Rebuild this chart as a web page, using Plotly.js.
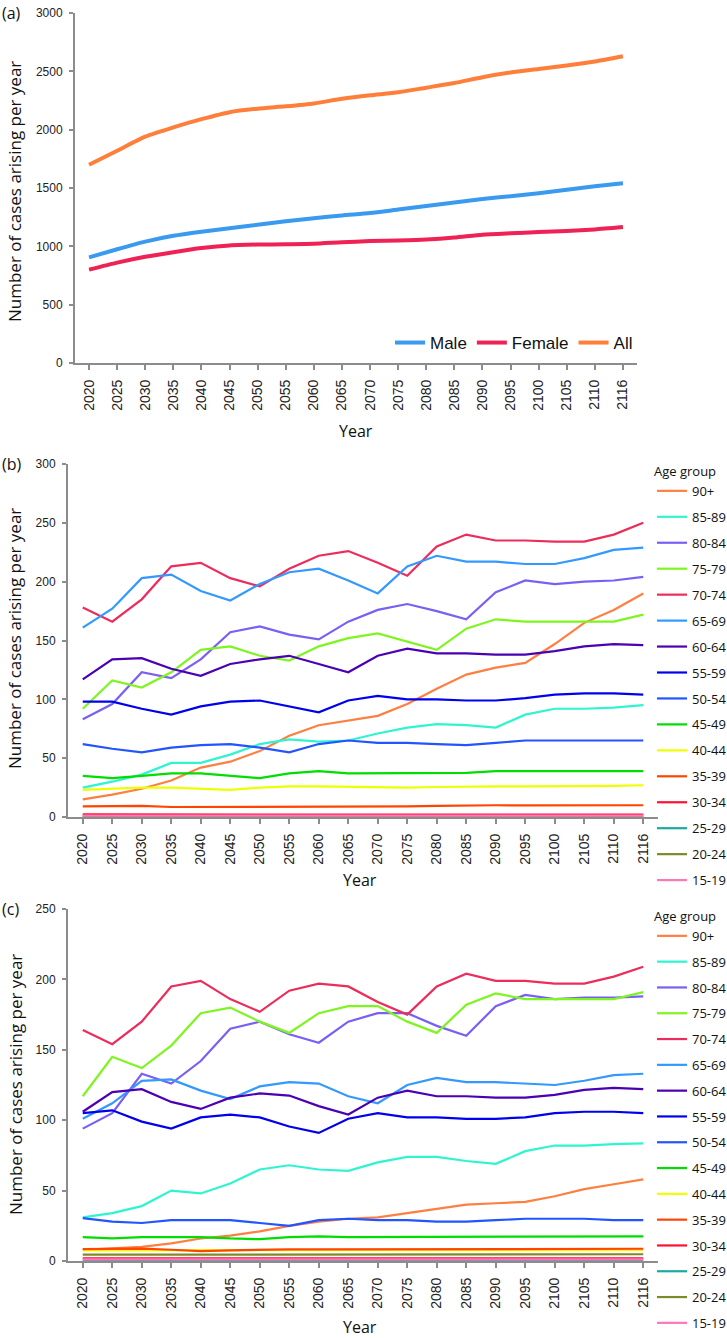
<!DOCTYPE html>
<html>
<head>
<meta charset="utf-8">
<script src="https://cdn.plot.ly/plotly-3.0.1.min.js"></script>
<style>html,body{margin:0;padding:0;background:#fff;}#chart{width:727px;height:1338px;}</style>
</head>
<body>
<div id="chart"></div>
<script>
// ---------- DATA ----------
var years = ['2020','2025','2030','2035','2040','2045','2050','2055','2060','2065','2070','2075','2080','2085','2090','2095','2100','2105','2110','2116'];

// Panel (a)
var sexNames = ['Male','Female','All'];
var maleCases   = [905, 975, 1040, 1090, 1125, 1155, 1185, 1215, 1240, 1265, 1285, 1315, 1345, 1375, 1405, 1430, 1455, 1485, 1515, 1540];
var femaleCases = [800, 860, 910, 950, 985, 1008, 1015, 1018, 1022, 1035, 1045, 1050, 1058, 1075, 1100, 1112, 1122, 1132, 1145, 1165];
var allCases    = [1700, 1820, 1940, 2020, 2090, 2150, 2180, 2200, 2225, 2265, 2295, 2320, 2360, 2400, 2450, 2490, 2520, 2550, 2585, 2630];

// Age groups (legend order)
var ageGroups = ['90+','85-89','80-84','75-79','70-74','65-69','60-64','55-59','50-54','45-49','40-44','35-39','30-34','25-29','20-24','15-19'];

// Panel (b)
var b_90 = [15,19,24,31,42,47,56,69,78,82,86,96,109,121,127,131,147,165,176,190];
var b_85 = [25,30,36,46,46,53,62,66,64,65,71,76,79,78,76,87,92,92,93,95];
var b_80 = [83,96,123,118,134,157,162,155,151,166,176,181,175,168,191,201,198,200,201,204];
var b_75 = [92,116,110,123,142,145,137,133,145,152,156,149,142,160,168,166,166,166,166,172];
var b_70 = [178,166,185,213,216,203,196,211,222,226,216,205,230,240,235,235,234,234,240,250];
var b_65 = [161,177,203,206,192,184,198,208,211,201,190,213,222,217,217,215,215,220,227,229];
var b_60 = [117,134,135,126,120,130,134,137,130,123,137,143,139,139,138,138,141,145,147,146];
var b_55 = [98,98,92,87,94,98,99,94,89,99,103,100,100,99,99,101,104,105,105,104];
var b_50 = [62,58,55,59,61,62,59,55,62,65,63,63,62,61,63,65,65,65,65,65];
var b_45 = [35,33,35,37,37,35,33,37,39,37,37,37,37,37.5,39,39,39,39,39,39];
var b_40 = [23,24,25,25,24,23,25,26,26,25.5,25.5,25,25.5,26,26,26,26,26,26.5,27];
var b_35 = [9,9.5,9.5,8.5,8.5,9,9,9,9,8.8,9,9,9.5,10,10,9.8,9.8,10,10,10];
var b_30 = [2.3,2.2,2.1,2.1,2.0,2.0,2.1,2.1,2.0,2.0,2.1,2.0,2.0,2.1,2.1,2.0,2.0,2.1,2.1,2.1];
var b_25 = [0.4,0.4,0.3,0.3,0.3,0.4,0.3,0.3,0.3,0.4,0.3,0.3,0.3,0.3,0.4,0.3,0.3,0.3,0.3,0.3];
var b_20 = [0.8,0.8,0.7,0.8,0.8,0.7,0.8,0.8,0.8,0.7,0.8,0.8,0.8,0.7,0.8,0.8,0.8,0.8,0.7,0.8];
var b_15 = [1.2,1.2,1.1,1.2,1.2,1.1,1.2,1.2,1.2,1.1,1.2,1.2,1.2,1.1,1.2,1.2,1.2,1.2,1.1,1.2];

// Panel (c)
var c_90 = [8,9,10,12.5,16,18,21,25,28,30,31,34,37,40,41,42,46,51,54.5,58];
var c_85 = [31,34,39,50,48,55,65,68,65,64,70,74,74,71,69,78,82,82,83,83.5];
var c_80 = [94,105,133,126,142,165,170,161,155,170,176,176,167,160,181,189,186,187,187,188];
var c_75 = [117,145,137,153,176,180,170,162,176,181,181,170,162,182,190,186,186,186,186,191];
var c_70 = [164,154,170,195,199,186,177,192,197,195,184,175,195,204,199,199,197,197,202,209];
var c_65 = [101,112,128,129,121,115,124,127,126,117,112,125,130,127,127,126,125,128,132,133];
var c_60 = [106,120,122,113,108,116,119,117.5,110,104,116,121,117,117,116,116,118,121.5,123,122];
var c_55 = [105,107,99,94,102,104,102,95.5,91,101,105,102,102,101,101,102,105,106,106,105];
var c_50 = [30.5,28,27,29,29,29,27,25,29,30,29,29,28,28,29,30,30,30,29,29];
var c_45 = [17,16,17,17,17,16,15.5,17,17.5,17,17,17,17,17,17.5,17.5,17.5,17.5,17.5,17.5];
var c_40 = [7.6,7.6,7.7,7.6,7.5,7.6,7.7,7.7,7.7,7.6,7.6,7.7,7.7,7.7,7.7,7.7,7.8,7.8,7.8,7.8];
var c_35 = [8.5,8.6,8.8,8.0,7.0,7.6,8.0,8.2,8.2,8.2,8.2,8.3,8.3,8.3,8.3,8.3,8.3,8.4,8.5,8.7];
var c_30 = [1.8,1.8,1.7,1.8,1.8,1.7,1.8,1.8,1.8,1.7,1.8,1.8,1.8,1.7,1.8,1.8,1.8,1.8,1.7,1.8];
var c_25 = [0.3,0.3,0.3,0.3,0.3,0.3,0.3,0.3,0.3,0.3,0.3,0.3,0.3,0.3,0.3,0.3,0.3,0.3,0.3,0.3];
var c_20 = [4.5,4.5,4.6,4.6,4.6,4.6,4.6,4.6,4.7,4.7,4.7,4.7,4.7,4.7,4.7,4.7,4.8,4.8,4.8,4.8];
var c_15 = [1.2,1.2,1.1,1.2,1.2,1.1,1.2,1.2,1.2,1.1,1.2,1.2,1.2,1.1,1.2,1.2,1.2,1.2,1.1,1.2];

// ---------- STYLE ----------
var sexColors = ['#3A9AF0','#EE2255','#FF7F3A'];
var ageColors = ['#FF7F41','#2EF5D0','#7B5FF5','#7FF51F','#EE2C5C','#3399FF','#4B00B4','#0000EE','#2255FF','#00DD00','#EEFF00','#FF4500','#FF1030','#1AABA0','#7A8B2A','#FF77BB'];

var W = 727, H = 1338;
function px(x){ return x / W; }
function py(y){ return 1 - y / H; }

var bSeries = [b_90,b_85,b_80,b_75,b_70,b_65,b_60,b_55,b_50,b_45,b_40,b_35,b_30,b_25,b_20,b_15];
var cSeries = [c_90,c_85,c_80,c_75,c_70,c_65,c_60,c_55,c_50,c_45,c_40,c_35,c_30,c_25,c_20,c_15];
var aSeries = [maleCases, femaleCases, allCases];

var traces = [];
aSeries.forEach(function(s, i){
  traces.push({x: years, y: s, type:'scatter', mode:'lines', name: sexNames[i],
    line:{color: sexColors[i], width:4, shape:'spline', smoothing:0.6},
    xaxis:'x', yaxis:'y', legend:'legend'});
});
bSeries.forEach(function(s, i){
  traces.push({x: years, y: s, type:'scatter', mode:'lines', name: ageGroups[i],
    line:{color: ageColors[i], width:2.2}, legendgroup:'b'+i,
    xaxis:'x2', yaxis:'y2', legend:'legend2'});
});
cSeries.forEach(function(s, i){
  traces.push({x: years, y: s, type:'scatter', mode:'lines', name: ageGroups[i],
    line:{color: ageColors[i], width:2.2}, legendgroup:'c'+i,
    xaxis:'x3', yaxis:'y3', legend:'legend3'});
});

var tickFont = {family:'Liberation Sans, Arial, sans-serif', size:12, color:'#222'};
var xTickFont = {family:'Liberation Sans, Arial, sans-serif', size:14, color:'#222'};
var axisColor = '#8C8C8C';

function xax(dom, anchor){
  return {domain: dom, anchor: anchor, type:'category', range:[-0.5, 19.5],
    showline:true, linecolor:axisColor, linewidth:2, ticks:'outside', ticklen:5, tickwidth:2, tickcolor:axisColor,
    tickangle:-90, tickfont:xTickFont, showgrid:false, zeroline:false, fixedrange:true, ticklabelstandoff:4};
}
function yax(dom, anchor, rng, dt){
  return {domain: dom, anchor: anchor, range: rng, dtick: dt, tick0:0,
    showline:true, linecolor:axisColor, linewidth:2, ticks:'outside', ticklen:4, tickwidth:2, tickcolor:axisColor,
    tickfont:tickFont, showgrid:false, zeroline:false, fixedrange:true, ticklabelstandoff:4};
}

var legendFont = {family:'Open Sans, Liberation Sans, sans-serif', size:13, color:'#111'};
var titleFont = {family:'Open Sans, sans-serif', size:17, color:'#111'};
var yearFont = {family:'Open Sans, sans-serif', size:16, color:'#111'};

var layout = {
  width: W, height: H,
  margin:{l:0, r:0, t:0, b:0, autoexpand:false},
  paper_bgcolor:'#fff', plot_bgcolor:'#fff',
  showlegend:true,
  xaxis:  xax([px(75), px(637)], 'y'),
  yaxis:  yax([py(363), py(13)], 'x', [0, 3000], 500),
  xaxis2: xax([px(68), px(658)], 'y2'),
  yaxis2: yax([py(817), py(464)], 'x2', [0, 300], 50),
  xaxis3: xax([px(68), px(658)], 'y3'),
  yaxis3: yax([py(1261), py(909)], 'x3', [0, 250], 50),
  legend: {orientation:'h', x: px(390), y: py(343), xanchor:'left', yanchor:'middle',
    font:{family:'Liberation Sans Narrow, Liberation Sans, sans-serif', size:17, color:'#111'},
    bgcolor:'rgba(0,0,0,0)', itemwidth:30, tracegroupgap:0},
  legend2: {orientation:'v', x: px(652), y: py(459), xanchor:'left', yanchor:'top',
    title:{text:'Age group', font:{family:'Open Sans, sans-serif', size:13, color:'#111'}},
    font: legendFont, bgcolor:'rgba(0,0,0,0)', traceorder:'grouped', tracegroupgap:6.05, itemwidth:30},
  legend3: {orientation:'v', x: px(652), y: py(904), xanchor:'left', yanchor:'top',
    title:{text:'Age group', font:{family:'Open Sans, sans-serif', size:13, color:'#111'}},
    font: legendFont, bgcolor:'rgba(0,0,0,0)', traceorder:'grouped', tracegroupgap:5.9, itemwidth:30},
  annotations: [
    {text:'(a)', x: px(0), y: py(13), xref:'paper', yref:'paper', xanchor:'left', yanchor:'middle', showarrow:false, font:{family:'Open Sans, sans-serif', size:16, color:'#111'}},
    {text:'(b)', x: px(0), y: py(464), xref:'paper', yref:'paper', xanchor:'left', yanchor:'middle', showarrow:false, font:{family:'Open Sans, sans-serif', size:16, color:'#111'}},
    {text:'(c)', x: px(0), y: py(909), xref:'paper', yref:'paper', xanchor:'left', yanchor:'middle', showarrow:false, font:{family:'Open Sans, sans-serif', size:16, color:'#111'}},
    {text:'Number of cases arising per year', textangle:-90, x: px(15), y: py(192), xref:'paper', yref:'paper', xanchor:'center', yanchor:'middle', showarrow:false, font:titleFont},
    {text:'Number of cases arising per year', textangle:-90, x: px(15), y: py(639), xref:'paper', yref:'paper', xanchor:'center', yanchor:'middle', showarrow:false, font:titleFont},
    {text:'Number of cases arising per year', textangle:-90, x: px(15), y: py(1085), xref:'paper', yref:'paper', xanchor:'center', yanchor:'middle', showarrow:false, font:titleFont},
    {text:'Year', x: px(356), y: py(431), xref:'paper', yref:'paper', xanchor:'center', yanchor:'middle', showarrow:false, font:yearFont},
    {text:'Year', x: px(360), y: py(880), xref:'paper', yref:'paper', xanchor:'center', yanchor:'middle', showarrow:false, font:yearFont},
    {text:'Year', x: px(360), y: py(1327), xref:'paper', yref:'paper', xanchor:'center', yanchor:'middle', showarrow:false, font:yearFont}
  ]
};

Plotly.newPlot('chart', traces, layout, {displayModeBar:false, staticPlot:true});
</script>
</body>
</html>
